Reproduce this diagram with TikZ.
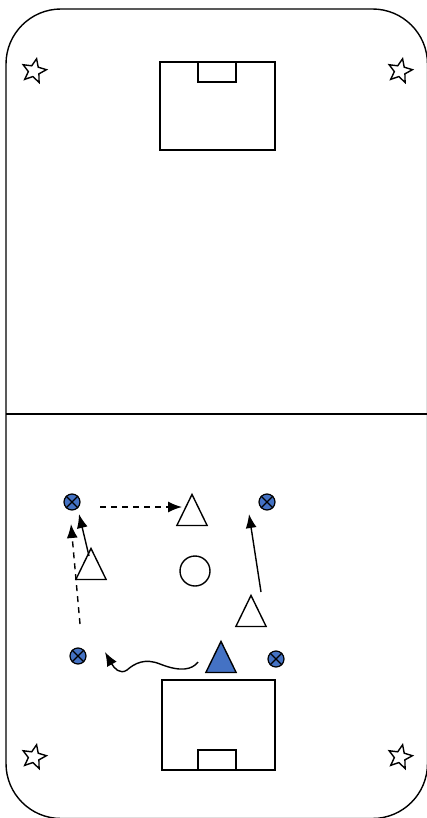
\documentclass[tikz,border=0pt]{standalone}
\usetikzlibrary{shapes.geometric,arrows.meta,decorations.pathmorphing}
\definecolor{pblue}{HTML}{4472C4}
\tikzset{
  ln/.style={line width=1.4pt},
  starmark/.style={star, star points=5, star point ratio=2.2, minimum size=25pt, inner sep=0pt, draw, line width=1.4pt, rotate=-12},
  ball/.style={circle, draw, fill=pblue, minimum size=16pt, inner sep=0pt, line width=1.2pt},
  tri/.style={isosceles triangle, isosceles triangle apex angle=52, shape border rotate=90, draw, line width=1.4pt, minimum height=31pt, inner sep=0pt, fill=white},
  arr/.style={line width=1.4pt, -{Latex[length=14pt,width=11pt]}},
  darr/.style={arr, dash pattern=on 6pt off 5pt},
}
\begin{document}
\begin{tikzpicture}[x=1pt,y=-1pt]
\useasboundingbox (0,0) rectangle (427,818);
% field
\draw[ln, rounded corners=55pt] (6,9) rectangle (427.5,818.5);
\draw[ln] (6,414) -- (427,414);
% goal areas
\draw[ln] (160,62) rectangle (275,150);
\draw[ln] (198,62) rectangle (236,82);
\draw[ln] (162,680) rectangle (275,770);
\draw[ln] (198,750) rectangle (236,770);
% stars
\node[starmark] (s1) at (34,71) {};
\node[starmark] (s2) at (400,71) {};
\node[starmark] (s3) at (34,757) {};
\node[starmark] (s4) at (400,757) {};
% balls
\foreach \n/\x/\y in {b1/72/502, b2/267/502, b3/78/656, b4/276/659}{
  \node[ball] (\n) at (\x,\y) {};
  \draw[line width=1.2pt] (\n.north east) -- (\n.south west) (\n.north west) -- (\n.south east);
}
% triangles
\node[tri] (t1) at (192,516) {};
\node[tri] (t2) at (91,570) {};
\node[tri] (t3) at (251,617) {};
\node[tri, fill=pblue] (t4) at (221,663) {};
% cone circle
\node[circle, draw, line width=1.4pt, minimum size=30pt, inner sep=0pt] (c1) at (195,571) {};
% arrow coordinates
\coordinate (a1s) at (100,507);
\coordinate (a1e) at (182,507);
\coordinate (a2s) at (89,556);
\coordinate (a2e) at (79,514);
\coordinate (a3s) at (80,624);
\coordinate (a3e) at (71,524);
\coordinate (a4s) at (261,592);
\coordinate (a4e) at (249,514);
\coordinate (a5s) at (198,662);
\coordinate (a5e) at (105,652);
\draw[darr] (a1s) -- (a1e);
\draw[arr] (a2s) -- (a2e);
\draw[darr] (a3s) -- (a3e);
\draw[arr] (a4s) -- (a4e);
\draw[arr] (a5s) .. controls (192,670) and (180,672) .. (160,664)
  .. controls (145,658) and (135,663) .. (127,670)
  .. controls (120,675) and (114,668) .. (a5e);
\end{tikzpicture}
\end{document}
